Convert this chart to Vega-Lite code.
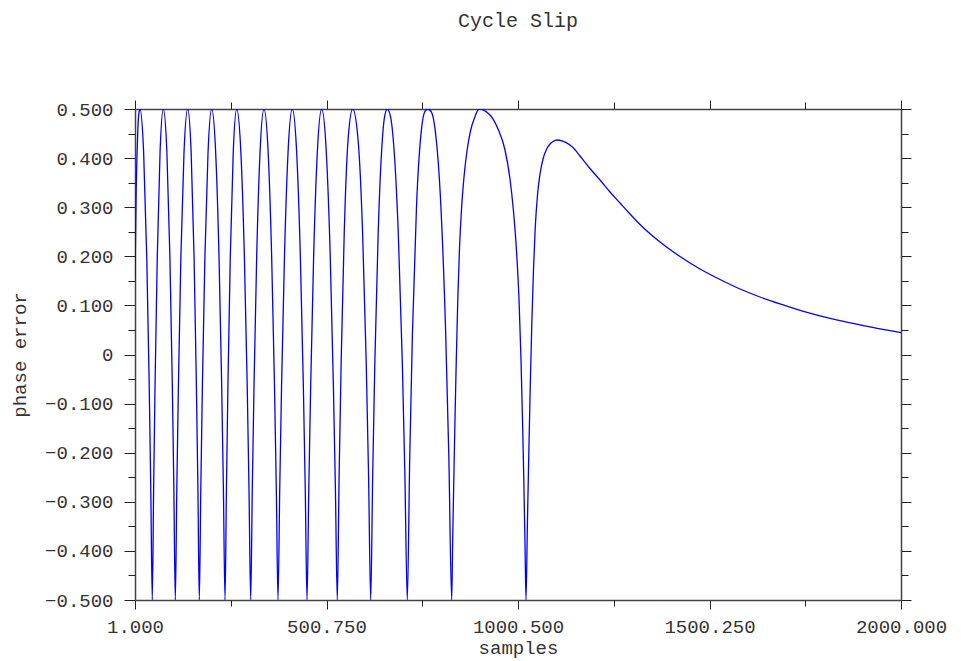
{
  "$schema": "https://vega.github.io/schema/vega-lite/v6.json",
  "width": 766,
  "height": 491,
  "autosize": "none",
  "padding": {"left": 135, "top": 109, "right": 60, "bottom": 61},
  "background": "white",
  "title": {"text": "Cycle Slip", "font": "Liberation Mono", "fontSize": 20, "fontWeight": "normal", "color": "#333", "anchor": "middle", "offset": 69},
  "config": {
    "view": {"stroke": null},
    "axis": {
      "grid": false,
      "labelFont": "Liberation Mono",
      "labelFontSize": 19,
      "labelColor": "#333",
      "titleFont": "Liberation Mono",
      "titleFontSize": 19,
      "titleFontWeight": "normal",
      "titleColor": "#333",
      "domainColor": "#444",
      "domainWidth": 1.5,
      "tickColor": "#222",
      "tickWidth": 1,
      "labelFlush": false,
      "labelOverlap": false,
      "labelBound": false
    }
  },
  "data": {"values": [
    {"sample": 1, "phase": 0.152}, {"sample": 2.5, "phase": 0.24}, {"sample": 4, "phase": 0.33}, {"sample": 6, "phase": 0.40}, {"sample": 8.5, "phase": 0.46}, {"sample": 11, "phase": 0.49}, {"sample": 14.0, "phase": 0.5},
    {"sample": 23.6, "phase": 0.41}, {"sample": 31.7, "phase": 0.1975}, {"sample": 38.1, "phase": -0.0625}, {"sample": 42.2, "phase": -0.274}, {"sample": 46.1, "phase": -0.5},
    {"sample": 49.6, "phase": -0.274}, {"sample": 53.3, "phase": -0.0625}, {"sample": 59.1, "phase": 0.1975}, {"sample": 66.3, "phase": 0.41}, {"sample": 74.9, "phase": 0.5},
    {"sample": 84.3, "phase": 0.41}, {"sample": 92.1, "phase": 0.1975}, {"sample": 98.4, "phase": -0.0625}, {"sample": 102.4, "phase": -0.274}, {"sample": 106.2, "phase": -0.5},
    {"sample": 110.1, "phase": -0.274}, {"sample": 114.3, "phase": -0.0625}, {"sample": 120.7, "phase": 0.1975}, {"sample": 128.8, "phase": 0.41}, {"sample": 138.5, "phase": 0.5},
    {"sample": 147.6, "phase": 0.41}, {"sample": 155.2, "phase": 0.1975}, {"sample": 161.2, "phase": -0.0625}, {"sample": 165.2, "phase": -0.274}, {"sample": 168.8, "phase": -0.5},
    {"sample": 172.7, "phase": -0.274}, {"sample": 176.9, "phase": -0.0625}, {"sample": 183.4, "phase": 0.1975}, {"sample": 191.5, "phase": 0.41}, {"sample": 201.2, "phase": 0.5},
    {"sample": 211.6, "phase": 0.41}, {"sample": 220.3, "phase": 0.1975}, {"sample": 227.2, "phase": -0.0625}, {"sample": 231.7, "phase": -0.274}, {"sample": 235.9, "phase": -0.5},
    {"sample": 239.6, "phase": -0.274}, {"sample": 243.5, "phase": -0.0625}, {"sample": 249.6, "phase": 0.1975}, {"sample": 257.3, "phase": 0.41}, {"sample": 266.4, "phase": 0.5},
    {"sample": 277.4, "phase": 0.41}, {"sample": 286.5, "phase": 0.1975}, {"sample": 293.8, "phase": -0.0625}, {"sample": 298.5, "phase": -0.274}, {"sample": 302.9, "phase": -0.5},
    {"sample": 307.1, "phase": -0.274}, {"sample": 311.6, "phase": -0.0625}, {"sample": 318.5, "phase": 0.1975}, {"sample": 327.2, "phase": 0.41}, {"sample": 337.6, "phase": 0.5},
    {"sample": 348.6, "phase": 0.41}, {"sample": 357.7, "phase": 0.1975}, {"sample": 365.0, "phase": -0.0625}, {"sample": 369.8, "phase": -0.274}, {"sample": 374.2, "phase": -0.5},
    {"sample": 378.7, "phase": -0.274}, {"sample": 383.5, "phase": -0.0625}, {"sample": 391.0, "phase": 0.1975}, {"sample": 400.3, "phase": 0.41}, {"sample": 411.5, "phase": 0.5},
    {"sample": 423.0, "phase": 0.41}, {"sample": 432.6, "phase": 0.1975}, {"sample": 440.3, "phase": -0.0625}, {"sample": 445.3, "phase": -0.274}, {"sample": 449.9, "phase": -0.5},
    {"sample": 454.5, "phase": -0.274}, {"sample": 459.5, "phase": -0.0625}, {"sample": 467.1, "phase": 0.1975}, {"sample": 476.7, "phase": 0.41}, {"sample": 488.2, "phase": 0.5},
    {"sample": 500.4, "phase": 0.41}, {"sample": 510.6, "phase": 0.1975}, {"sample": 518.7, "phase": -0.0625}, {"sample": 524.0, "phase": -0.274}, {"sample": 528.9, "phase": -0.5},
    {"sample": 533.7, "phase": -0.245}, {"sample": 539.0, "phase": -0.016}, {"sample": 547.0, "phase": 0.247}, {"sample": 557.0, "phase": 0.437}, {"sample": 569.1, "phase": 0.5},
    {"sample": 583.2, "phase": 0.437}, {"sample": 595.0, "phase": 0.247}, {"sample": 604.4, "phase": -0.016}, {"sample": 610.5, "phase": -0.245}, {"sample": 616.1, "phase": -0.5},
    {"sample": 621.3, "phase": -0.245}, {"sample": 626.9, "phase": -0.016}, {"sample": 635.6, "phase": 0.247}, {"sample": 646.4, "phase": 0.437}, {"sample": 652.9, "phase": 0.487}, {"sample": 659.4, "phase": 0.5},
    {"sample": 667.2, "phase": 0.487}, {"sample": 675.1, "phase": 0.437}, {"sample": 688.1, "phase": 0.247}, {"sample": 698.6, "phase": -0.016}, {"sample": 705.3, "phase": -0.245}, {"sample": 711.6, "phase": -0.5},
    {"sample": 718.0, "phase": -0.208}, {"sample": 724.9, "phase": 0.04}, {"sample": 735.6, "phase": 0.301}, {"sample": 748.9, "phase": 0.461}, {"sample": 756.9, "phase": 0.494}, {"sample": 764.9, "phase": 0.5},
    {"sample": 774.3, "phase": 0.494}, {"sample": 783.7, "phase": 0.461}, {"sample": 799.3, "phase": 0.301}, {"sample": 811.9, "phase": 0.04}, {"sample": 820.0, "phase": -0.208}, {"sample": 827.5, "phase": -0.5},
    {"sample": 830.1, "phase": -0.3758}, {"sample": 833.0, "phase": -0.2536}, {"sample": 836.1, "phase": -0.1314}, {"sample": 839.5, "phase": -0.0092}, {"sample": 843.4, "phase": 0.1130}, {"sample": 847.8, "phase": 0.2149}, {"sample": 853.1, "phase": 0.2963}, {"sample": 859.6, "phase": 0.3615}, {"sample": 867.4, "phase": 0.4145}, {"sample": 876.5, "phase": 0.4552}, {"sample": 887.0, "phase": 0.4817}, {"sample": 898.7, "phase": 0.5},
    {"sample": 927.4, "phase": 0.4878}, {"sample": 948.3, "phase": 0.4593}, {"sample": 966.6, "phase": 0.4165}, {"sample": 979.6, "phase": 0.3574}, {"sample": 988.2, "phase": 0.2963}, {"sample": 997.1, "phase": 0.2047}, {"sample": 1003.1, "phase": 0.1130}, {"sample": 1008.3, "phase": -0.0092}, {"sample": 1012.2, "phase": -0.1314}, {"sample": 1015.6, "phase": -0.2536}, {"sample": 1018.8, "phase": -0.3859}, {"sample": 1021.4, "phase": -0.5},
    {"sample": 1024.8, "phase": -0.3554}, {"sample": 1028.4, "phase": -0.2128}, {"sample": 1032.3, "phase": -0.0703}, {"sample": 1036.5, "phase": 0.0621}, {"sample": 1041.0, "phase": 0.1741}, {"sample": 1045.6, "phase": 0.2597}, {"sample": 1051.4, "phase": 0.3248}, {"sample": 1058.4, "phase": 0.3697}, {"sample": 1066.5, "phase": 0.4002}, {"sample": 1075.4, "phase": 0.4185}, {"sample": 1084.0, "phase": 0.4287}, {"sample": 1091.8, "phase": 0.4338}, {"sample": 1102.3, "phase": 0.4369}, {"sample": 1115.3, "phase": 0.4352},
    {"sample": 1136.2, "phase": 0.4267}, {"sample": 1149.3, "phase": 0.4171}, {"sample": 1162.3, "phase": 0.4043}, {"sample": 1188.4, "phase": 0.3788}, {"sample": 1214.5, "phase": 0.3554}, {"sample": 1240.6, "phase": 0.3310}, {"sample": 1266.7, "phase": 0.3086}, {"sample": 1292.8, "phase": 0.2862}, {"sample": 1318.9, "phase": 0.2648}, {"sample": 1371.1, "phase": 0.2291}, {"sample": 1423.3, "phase": 0.1996}, {"sample": 1475.5, "phase": 0.1741}, {"sample": 1527.7, "phase": 0.1527}, {"sample": 1579.8, "phase": 0.1334}, {"sample": 1632.0, "phase": 0.1171}, {"sample": 1684.2, "phase": 0.1029}, {"sample": 1736.4, "phase": 0.0900}, {"sample": 1788.6, "phase": 0.0788}, {"sample": 1840.8, "phase": 0.0690}, {"sample": 1893.0, "phase": 0.0603}, {"sample": 1945.2, "phase": 0.0521}, {"sample": 2000, "phase": 0.0444}
  ]},
  "layer": [
    {
      "mark": {"type": "line", "color": "#0000ff", "strokeWidth": 1.3, "interpolate": "monotone", "clip": true},
      "encoding": {
        "x": {"field": "sample", "type": "quantitative", "scale": {"domain": [1, 2000], "nice": false, "zero": false},
          "axis": {"orient": "bottom", "values": [1, 500.75, 1000.5, 1500.25, 2000], "format": ".3f", "tickSize": 9, "labelPadding": 8, "title": "samples", "titlePadding": 2}},
        "y": {"field": "phase", "type": "quantitative", "scale": {"domain": [-0.5, 0.5], "nice": false, "zero": false},
          "axis": {"orient": "left", "values": [-0.5, -0.4, -0.3, -0.2, -0.1, 0, 0.1, 0.2, 0.3, 0.4, 0.5], "labelExpr": "datum.value == 0 ? '0' : format(datum.value, '.3f')", "tickSize": 11, "labelPadding": 11, "title": "phase error", "titlePadding": 15}}
      }
    },
    {
      "mark": {"type": "line", "strokeOpacity": 0},
      "encoding": {
        "x": {"field": "sample", "type": "quantitative", "axis": {"orient": "bottom", "values": [250.875, 750.625, 1250.375, 1750.125], "labels": false, "domain": false, "tickSize": 6, "title": null}},
        "y": {"field": "phase", "type": "quantitative", "axis": {"orient": "left", "values": [-0.45, -0.35, -0.25, -0.15, -0.05, 0.05, 0.15, 0.25, 0.35, 0.45], "labels": false, "domain": false, "tickSize": 7, "title": null}}
      }
    },
    {
      "mark": {"type": "line", "strokeOpacity": 0},
      "encoding": {
        "x": {"field": "sample", "type": "quantitative", "axis": {"orient": "top", "values": [1, 500.75, 1000.5, 1500.25, 2000], "labels": false, "domain": true, "tickSize": 9, "title": null}},
        "y": {"field": "phase", "type": "quantitative", "axis": {"orient": "right", "values": [-0.5, -0.4, -0.3, -0.2, -0.1, 0, 0.1, 0.2, 0.3, 0.4, 0.5], "labels": false, "domain": true, "tickSize": 10, "title": null}}
      }
    },
    {
      "mark": {"type": "line", "strokeOpacity": 0},
      "encoding": {
        "x": {"field": "sample", "type": "quantitative", "axis": {"orient": "top", "values": [250.875, 750.625, 1250.375, 1750.125], "labels": false, "domain": false, "tickSize": 7, "title": null}},
        "y": {"field": "phase", "type": "quantitative", "axis": {"orient": "right", "values": [-0.45, -0.35, -0.25, -0.15, -0.05, 0.05, 0.15, 0.25, 0.35, 0.45], "labels": false, "domain": false, "tickSize": 7, "title": null}}
      }
    }
  ],
  "resolve": {"axis": {"x": "independent", "y": "independent"}}
}
